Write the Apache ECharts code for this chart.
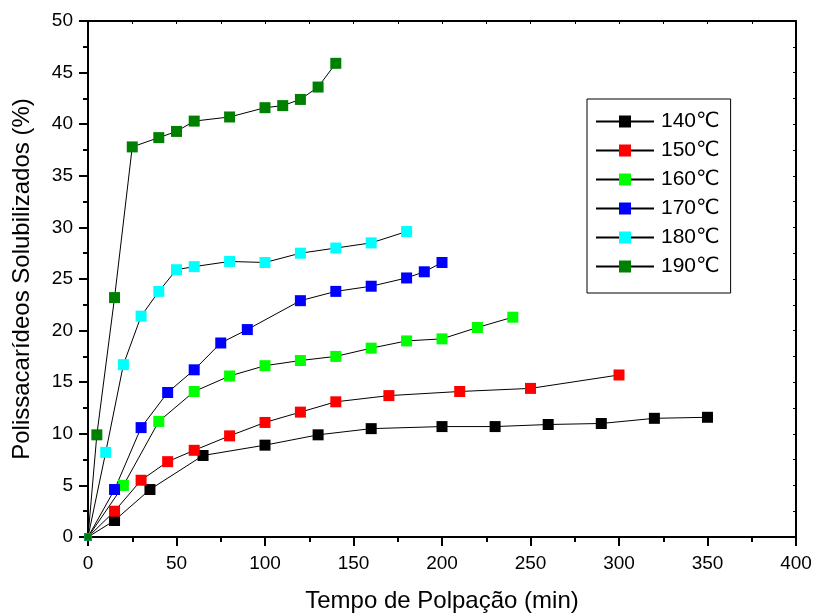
<!DOCTYPE html>
<html>
<head>
<meta charset="utf-8">
<script src="https://cdn.jsdelivr.net/npm/echarts@6/dist/echarts.min.js"></script>
<style>html,body{margin:0;padding:0;background:#fff;}#c{width:815px;height:613px;}</style>
</head>
<body>
<div id="c"></div>
<script>
var seriesNames = ['140\u2103', '150\u2103', '160\u2103', '170\u2103', '180\u2103', '190\u2103'];
var seriesColors = ['#000000', '#ff0000', '#00ff00', '#0000ff', '#00ffff', '#008000'];

var time140 = [0, 15, 35, 65, 100, 130, 160, 200, 230, 260, 290, 320, 350];
var val140  = [0, 1.6, 4.6, 7.9, 8.9, 9.9, 10.5, 10.7, 10.7, 10.9, 11.0, 11.5, 11.6];

var time150 = [0, 15, 30, 45, 60, 80, 100, 120, 140, 170, 210, 250, 300];
var val150  = [0, 2.5, 5.5, 7.3, 8.4, 9.8, 11.1, 12.1, 13.1, 13.7, 14.1, 14.4, 15.7];

var time160 = [0, 20, 40, 60, 80, 100, 120, 140, 160, 180, 200, 220, 240];
var val160  = [0, 5.0, 11.2, 14.1, 15.6, 16.6, 17.1, 17.5, 18.3, 19.0, 19.2, 20.3, 21.3];

var time170 = [0, 15, 30, 45, 60, 75, 90, 120, 140, 160, 180, 190, 200];
var val170  = [0, 4.6, 10.6, 14.0, 16.2, 18.8, 20.1, 22.9, 23.8, 24.3, 25.1, 25.7, 26.6];

var time180 = [0, 10, 20, 30, 40, 50, 60, 80, 100, 120, 140, 160, 180];
var val180  = [0, 8.2, 16.7, 21.4, 23.8, 25.9, 26.2, 26.7, 26.6, 27.5, 28.0, 28.5, 29.6];

var time190 = [0, 5, 15, 25, 40, 50, 60, 80, 100, 110, 120, 130, 140];
var val190  = [0, 9.9, 23.2, 37.8, 38.7, 39.3, 40.3, 40.7, 41.6, 41.8, 42.4, 43.6, 45.9];

var xTicks = { min: 0, max: 400, interval: 50 };
var yTicks = { min: 0, max: 50, interval: 5 };

var allTimes = [time140, time150, time160, time170, time180, time190];
var allVals = [val140, val150, val160, val170, val180, val190];

function zip(xs, ys) { return xs.map(function (x, i) { return [x, ys[i]]; }); }

var FONT = '"Liberation Sans", Arial, "DejaVu Sans", sans-serif';

var series = seriesNames.map(function (name, i) {
  return {
    name: name,
    type: 'line',
    xAxisIndex: 0,
    yAxisIndex: 0,
    data: zip(allTimes[i], allVals[i]),
    symbol: 'rect',
    symbolSize: function (v) { return v[0] === 0 ? 7 : 11; },
    lineStyle: { color: '#000', width: 1 },
    itemStyle: { color: seriesColors[i] },
    emphasis: { disabled: true },
    animation: false,
    clip: false
  };
});

var chart = echarts.init(document.getElementById('c'), null, { renderer: 'canvas' });
chart.setOption({
  backgroundColor: '#fff',
  animation: false,
  grid: { left: 88, top: 21, right: 19, bottom: 76, containLabel: false, outerBoundsMode: 'none' },
  legend: {
    orient: 'vertical',
    left: 587,
    top: 99,
    padding: [12, 11, 16, 8],
    itemWidth: 58,
    itemHeight: 15,
    itemGap: 8,
    borderColor: '#000',
    borderWidth: 1,
    textStyle: { color: '#000', fontSize: 21, fontFamily: FONT, padding: [0, 0, 0, 2] },
    data: seriesNames
  },
  xAxis: [{
    type: 'value',
    position: 'bottom',
    min: xTicks.min, max: xTicks.max, interval: xTicks.interval,
    name: 'Tempo de Polpa\u00e7\u00e3o (min)',
    nameLocation: 'middle',
    nameGap: 52,
    nameTextStyle: { color: '#000', fontSize: 24, fontFamily: FONT },
    axisLine: { show: true, lineStyle: { color: '#000', width: 2 } },
    axisTick: { show: true, inside: false, length: 9, lineStyle: { color: '#000', width: 2 } },
    minorTick: { show: true, splitNumber: 2, length: 5, lineStyle: { color: '#000', width: 2 } },
    splitLine: { show: false },
    axisLabel: { color: '#000', fontSize: 19, fontFamily: FONT, margin: 17 }
  }, {
    type: 'value',
    position: 'top',
    min: xTicks.min, max: xTicks.max, interval: 25,
    axisLine: { show: true, onZero: false, lineStyle: { color: '#000', width: 2 } },
    axisTick: { show: true, inside: true, length: 3, lineStyle: { color: '#000', width: 1 } },
    splitLine: { show: false },
    axisLabel: { show: false }
  }],
  yAxis: [{
    type: 'value',
    position: 'left',
    min: yTicks.min, max: yTicks.max, interval: yTicks.interval,
    name: 'Polissacar\u00eddeos Solubilizados (%)',
    nameLocation: 'middle',
    nameGap: 54,
    nameTextStyle: { color: '#000', fontSize: 24, fontFamily: FONT },
    axisLine: { show: true, lineStyle: { color: '#000', width: 2 } },
    axisTick: { show: true, inside: false, length: 9, lineStyle: { color: '#000', width: 2 } },
    minorTick: { show: true, splitNumber: 2, length: 5, lineStyle: { color: '#000', width: 2 } },
    splitLine: { show: false },
    axisLabel: { color: '#000', fontSize: 19, fontFamily: FONT, margin: 15 }
  }, {
    type: 'value',
    position: 'right',
    min: yTicks.min, max: yTicks.max, interval: 2.5,
    axisLine: { show: true, onZero: false, lineStyle: { color: '#000', width: 2 } },
    axisTick: { show: true, inside: true, length: 3, lineStyle: { color: '#000', width: 1 } },
    splitLine: { show: false },
    axisLabel: { show: false }
  }],
  series: series
});
</script>
</body>
</html>
